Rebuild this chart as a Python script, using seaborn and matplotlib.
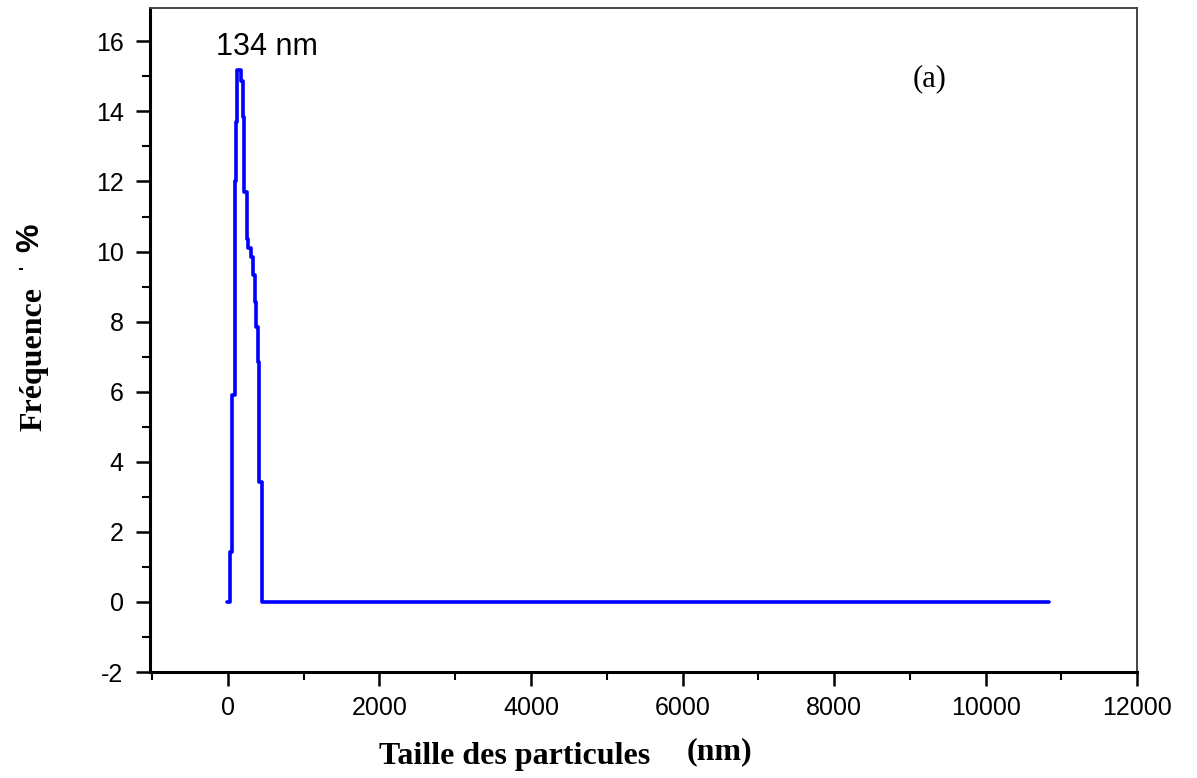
import matplotlib
matplotlib.use("Agg")
import matplotlib.pyplot as plt
import seaborn as sns
import pandas as pd
from matplotlib.ticker import MultipleLocator

# Data (step curve of the size distribution)
sizes_nm = [-17, 26, 57, 92, 105, 119, 171, 198, 217, 246, 267, 303, 333,
            356, 375, 391, 412, 444, 10843]
frequency = [0.0, 1.43, 5.9, 12.0, 13.7, 15.17, 14.86, 13.84, 11.7, 10.35,
             10.1, 9.85, 9.33, 8.57, 7.85, 6.85, 3.43, 0.0, 0.0]
x_ticks = [0, 2000, 4000, 6000, 8000, 10000, 12000]
y_ticks = [-2, 0, 2, 4, 6, 8, 10, 12, 14, 16]
peak_label = "134 nm"
peak_label_pos = (514, 15.83)

df = pd.DataFrame({"size": sizes_nm, "freq": frequency})

sns.set_style("ticks")
plt.rcParams["font.family"] = ["Liberation Sans", "DejaVu Sans"]
plt.rcParams["axes.unicode_minus"] = False
plt.rcParams["text.color"] = "black"

fig = plt.figure(figsize=(11.97, 7.78), dpi=100)
ax = fig.add_axes([0.1253, 0.1362, 0.8247, 0.8535])

sns.lineplot(data=df, x="size", y="freq", ax=ax, color="#0000FF",
             linewidth=2.6, drawstyle="steps-post", sort=False,
             estimator=None)

ax.set_xlim(-1028, 12000)
ax.set_ylim(-2, 16.95)
ax.set_xticks(x_ticks)
ax.set_yticks(y_ticks)
ax.xaxis.set_minor_locator(MultipleLocator(1000))
ax.yaxis.set_minor_locator(MultipleLocator(1))
ax.tick_params(axis="both", which="major", direction="out", length=10,
               width=1.8, labelsize=18, colors="black")
ax.tick_params(axis="both", which="minor", direction="out", length=6,
               width=1.5, colors="black")
ax.tick_params(axis="x", pad=7)
ax.tick_params(axis="y", pad=9)
for lab in ax.get_xticklabels() + ax.get_yticklabels():
    lab.set_fontfamily("Liberation Sans")
    lab.set_color("black")

for s in ["left", "bottom"]:
    ax.spines[s].set_linewidth(2.2)
    ax.spines[s].set_color("black")
for s in ["top", "right"]:
    ax.spines[s].set_visible(True)
    ax.spines[s].set_linewidth(1.4)
    ax.spines[s].set_color("#444444")

ax.set_xlabel("")
ax.set_ylabel("")

ax.text(peak_label_pos[0], peak_label_pos[1], peak_label, fontsize=22,
        ha="center", va="center", family="Liberation Sans", color="black")
ax.text(0.79, 0.894, "(a)", transform=ax.transAxes, fontsize=22,
        family="Liberation Serif", ha="center", va="center", color="black")

fig.text(0.430, 0.027, "Taille des particules", fontsize=23,
         fontweight="bold", family="Liberation Serif", ha="center",
         va="center", color="black")
fig.text(0.601, 0.034, "(nm)", fontsize=23,
         fontweight="bold", family="Liberation Serif", ha="center",
         va="center", color="black")

fig.text(0.0285, 0.539, "Fréquence", fontsize=23, fontweight="bold",
         family="Liberation Serif", rotation=90, ha="center", va="center",
         color="black")
fig.text(0.022, 0.657, "'", fontsize=12, fontweight="bold",
         family="Liberation Sans", rotation=90, ha="center", va="center",
         color="black")
fig.text(0.025, 0.695, "%", fontsize=23, fontweight="bold",
         family="Liberation Sans", rotation=90, ha="center", va="center",
         color="black")

fig.savefig("out.png", dpi=100, facecolor="white")
